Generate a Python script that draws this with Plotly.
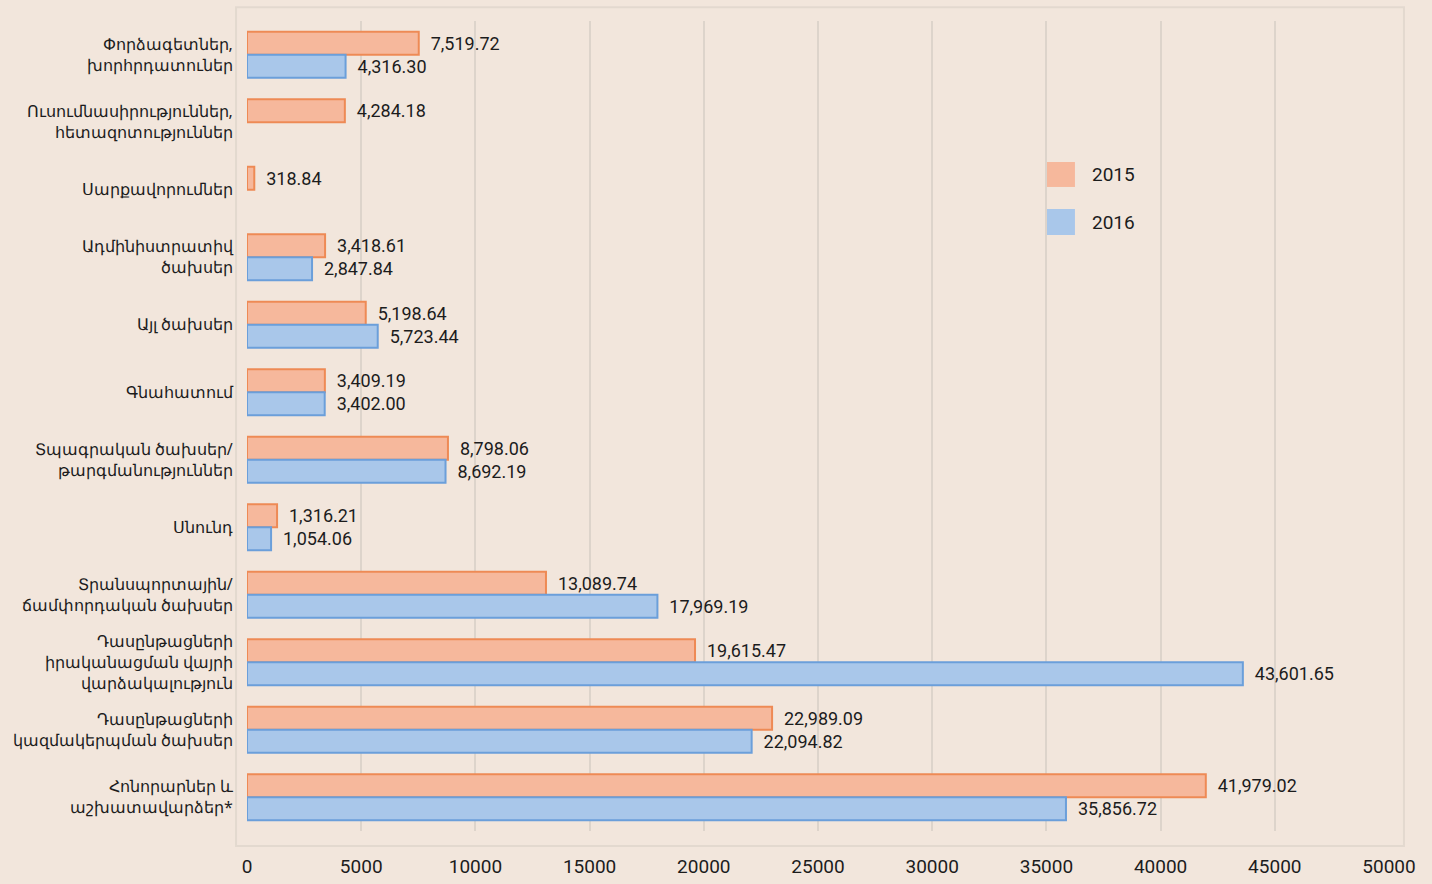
import plotly.graph_objects as go

categories = [
    "Փորձագետներ,<br>խորհրդատուներ",
    "Ուսումնասիրություններ,<br>հետազոտություններ",
    "Սարքավորումներ",
    "Ադմինիստրատիվ<br>ծախսեր",
    "Այլ ծախսեր",
    "Գնահատում",
    "Տպագրական ծախսեր/<br>թարգմանություններ",
    "Սնունդ",
    "Տրանսպորտային/<br>ճամփորդական ծախսեր",
    "Դասընթացների<br>իրականացման վայրի<br>վարձակալություն",
    "Դասընթացների<br>կազմակերպման ծախսեր",
    "Հոնորարներ և<br>աշխատավարձեր*",
]
values_2015 = [7519.72, 4284.18, 318.84, 3418.61, 5198.64, 3409.19, 8798.06, 1316.21,
               13089.74, 19615.47, 22989.09, 41979.02]
values_2016 = [4316.30, None, None, 2847.84, 5723.44, 3402.00, 8692.19, 1054.06,
               17969.19, 43601.65, 22094.82, 35856.72]
series_names = ["2015", "2016"]
x_ticks = [0, 5000, 10000, 15000, 20000, 25000, 30000, 35000, 40000, 45000, 50000]

FILL_2015, LINE_2015 = "#f6b89c", "#ee8a55"
FILL_2016, LINE_2016 = "#a9c7ea", "#6b9fda"
TEXT = "#1c1c1c"
FONT = "Roboto"

fig = go.Figure()
for name, vals, fill, line in [(series_names[0], values_2015, FILL_2015, LINE_2015),
                               (series_names[1], values_2016, FILL_2016, LINE_2016)]:
    fig.add_trace(go.Bar(
        y=categories, x=vals, orientation="h", name=name,
        marker=dict(color=fill, line=dict(color=line, width=2)),
        texttemplate="  %{x:,.2f}", textposition="outside", cliponaxis=False,
        textfont=dict(family=FONT, size=18, color=TEXT),
        showlegend=False,
    ))

fig.update_layout(
    width=1432, height=884,
    margin=dict(l=247, r=43, t=21, b=53),
    paper_bgcolor="#f2e6dc", plot_bgcolor="rgba(0,0,0,0)",
    barmode="group", bargap=0.32, bargroupgap=0.0,
    font=dict(family=FONT, color=TEXT),
    xaxis=dict(range=[0, 50000], tickvals=x_ticks, tickformat="d",
               showgrid=True, gridcolor="#ddd4cb", gridwidth=2,
               zeroline=False, showline=False, automargin=False,
               tickfont=dict(family=FONT, size=19, color=TEXT),
               ticks="outside", ticklen=0, ticklabelstandoff=18),
    yaxis=dict(autorange="reversed", showgrid=False, zeroline=False, automargin=False,
               tickfont=dict(family="Noto Sans", size=16, color=TEXT),
               ticks="outside", ticklen=0, ticklabelstandoff=10),
)

# faint frame around the plot area
fig.add_shape(type="rect", xref="paper", yref="paper",
              x0=-0.0096, x1=1.0131, y0=-0.0185, y1=1.017,
              line=dict(color="#e3d9cf", width=2), layer="below")

# legend
legend_items = [(series_names[0], FILL_2015, 0.8259, 0.7951),
                (series_names[1], FILL_2016, 0.7679, 0.7358)]
for name, fill, ytop, ybot in legend_items:
    fig.add_shape(type="rect", xref="paper", yref="paper",
                  x0=0.7005, x1=0.7250, y0=ybot, y1=ytop,
                  fillcolor=fill, line=dict(width=0))
    fig.add_annotation(xref="paper", yref="paper", x=0.7382, y=(ytop + ybot) / 2,
                       text=name, showarrow=False, xanchor="left", yanchor="middle",
                       font=dict(family=FONT, size=19, color=TEXT))

fig.write_html("out.html", config={"displayModeBar": False},
               post_script="document.body.style.margin='0';document.body.style.overflow='hidden';")
